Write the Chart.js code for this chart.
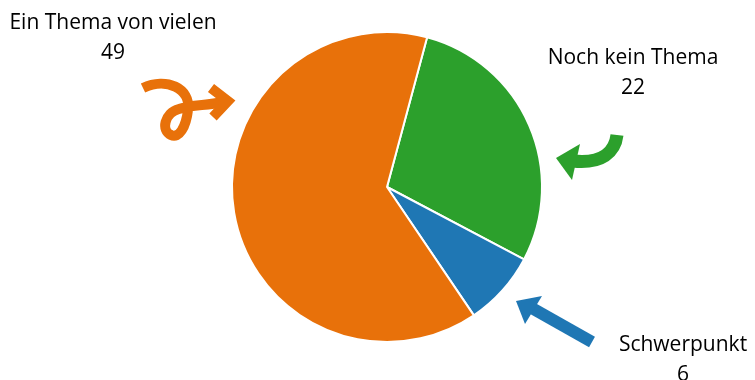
<!DOCTYPE html>
<html>
<head>
<meta charset="utf-8">
<script src="https://cdn.jsdelivr.net/npm/chart.js@4"></script>
<style>
    html, body { margin: 0; padding: 0; background: #fff; }
    #wrap { width: 755px; height: 380px; position: relative; }
</style>
</head>
<body>
<div id="wrap"><canvas id="pieChart"></canvas></div>
<script>
// Daten
const categories = ['Noch kein Thema', 'Schwerpunkt', 'Ein Thema von vielen'];
const counts = [22, 6, 49];
const colors = ['#2ca02c', '#1f77b4', '#e8710a'];

// Beschriftungen + Pfeile (nur Dekoration)
const annotations = {
    id: 'annotations',
    afterDraw(chart) {
        const ctx = chart.ctx;
        ctx.save();
        ctx.fillStyle = '#000';
        ctx.font = '21px "Open Sans", sans-serif';
        ctx.textAlign = 'center';
        ctx.textBaseline = 'alphabetic';
        const labelPos = [[633, 64], [683, 351], [113, 29]];
        categories.forEach((c, i) => {
            const [x, y] = labelPos[i];
            ctx.fillText(c, x, y);
            ctx.fillText(String(counts[i]), x, y + 30);
        });

        ctx.lineCap = 'butt';
        ctx.lineJoin = 'miter';

        // orange Schleife
        ctx.strokeStyle = colors[2];
        ctx.lineWidth = 10;
        ctx.beginPath();
        ctx.moveTo(143, 88);
        ctx.bezierCurveTo(166, 77, 191, 88, 188, 110);
        ctx.bezierCurveTo(186, 127, 179, 139, 171, 135);
        ctx.bezierCurveTo(161, 131, 164, 113, 179, 109);
        ctx.bezierCurveTo(193, 104, 205, 106, 223, 102);
        ctx.stroke();
        ctx.beginPath();
        ctx.moveTo(211, 88);
        ctx.lineTo(228, 101);
        ctx.lineTo(213, 117);
        ctx.stroke();

        // grüner Bogen
        ctx.strokeStyle = colors[0];
        ctx.fillStyle = colors[0];
        ctx.lineWidth = 13;
        ctx.beginPath();
        ctx.moveTo(617, 135);
        ctx.bezierCurveTo(615, 152, 602, 164, 573, 161);
        ctx.stroke();
        ctx.beginPath();
        ctx.moveTo(556, 158);
        ctx.lineTo(580, 144);
        ctx.lineTo(572, 180);
        ctx.closePath();
        ctx.fill();

        // blauer Pfeil
        ctx.strokeStyle = colors[1];
        ctx.fillStyle = colors[1];
        ctx.lineWidth = 12;
        ctx.beginPath();
        ctx.moveTo(592, 342);
        ctx.lineTo(530, 307);
        ctx.stroke();
        ctx.beginPath();
        ctx.moveTo(516, 301);
        ctx.lineTo(542, 296);
        ctx.lineTo(525, 324);
        ctx.closePath();
        ctx.fill();
        ctx.restore();
    }
};

new Chart(document.getElementById('pieChart'), {
    type: 'pie',
    data: {
        labels: categories,
        datasets: [{
            data: counts,
            backgroundColor: colors,
            borderColor: '#ffffff',
            borderWidth: 2
        }]
    },
    options: {
        responsive: true,
        maintainAspectRatio: false,
        animation: false,
        rotation: 15,
        layout: { padding: { top: 31, bottom: 37, left: 100, right: 81 } },
        plugins: {
            legend: { display: false },
            tooltip: { enabled: false }
        }
    },
    plugins: [annotations]
});
</script>
</body>
</html>
